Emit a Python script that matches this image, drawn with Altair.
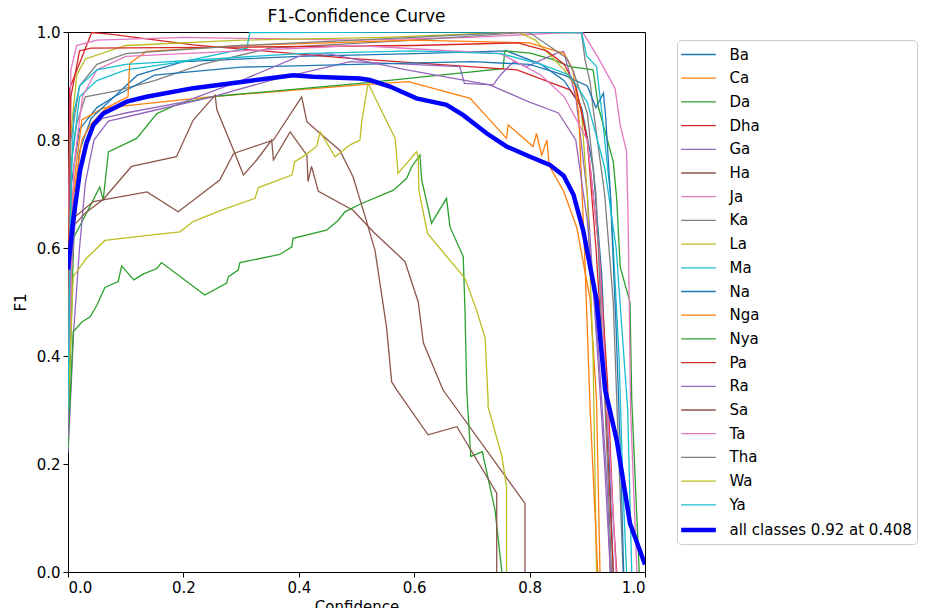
import altair as alt
import pandas as pd

# ---- data ----
CLASS_NAMES = ["Ba", "Ca", "Da", "Dha", "Ga", "Ha", "Ja", "Ka", "La", "Ma",
               "Na", "Nga", "Nya", "Pa", "Ra", "Sa", "Ta", "Tha", "Wa", "Ya",
               "all classes 0.92 at 0.408"]
TAB10 = ["#1f77b4", "#ff7f0e", "#2ca02c", "#d62728", "#9467bd",
         "#8c564b", "#e377c2", "#7f7f7f", "#bcbd22", "#17becf"]
COLORS = TAB10 + TAB10 + ["#0000ff"]
WIDTHS = [1.3] * 20 + [4.5]

BA = [(0, 0.35), (0.006, 0.72), (0.02, 0.82), (0.05, 0.86), (0.08, 0.88), (0.12, 0.92), (0.2, 0.945),
      (0.4, 0.955), (0.6, 0.96), (0.76, 0.965), (0.82, 0.94), (0.86, 0.91), (0.89, 0.86), (0.91, 0.75),
      (0.925, 0.55), (0.935, 0.3), (0.945, 0.0)]
CA = [(0, 0.40), (0.008, 0.70), (0.024, 0.837), (0.061, 0.859), (0.246, 0.880), (0.506, 0.902),
      (0.590, 0.908), (0.697, 0.877), (0.760, 0.803), (0.763, 0.828), (0.806, 0.788), (0.812, 0.812),
      (0.821, 0.772), (0.830, 0.80), (0.834, 0.752), (0.859, 0.705), (0.882, 0.637), (0.905, 0.504),
      (0.916, 0.319), (0.922, 0.0)]
DA = [(0, 0.25), (0.01, 0.62), (0.025, 0.65), (0.038, 0.677), (0.055, 0.713), (0.061, 0.689),
      (0.070, 0.778), (0.119, 0.803), (0.154, 0.849), (0.194, 0.868), (0.255, 0.881), (0.506, 0.905),
      (0.754, 0.932), (0.757, 0.965), (0.801, 0.961), (0.841, 0.949), (0.870, 0.936), (0.910, 0.930),
      (0.913, 0.909), (0.919, 0.862), (0.945, 0.760), (0.951, 0.69), (0.957, 0.565), (0.974, 0.50),
      (0.977, 0.32), (0.99, 0.0)]
DHA = [(0, 0.60), (0.003, 0.896), (0.041, 0.999), (0.073, 0.996), (0.217, 0.976), (0.489, 0.951),
       (0.778, 0.930), (0.870, 0.893), (0.887, 0.868), (0.90, 0.80), (0.915, 0.6), (0.93, 0.35),
       (0.945, 0.0)]
GA = [(0, 0.22), (0.01, 0.45), (0.02, 0.6), (0.03, 0.72), (0.045, 0.80), (0.07, 0.835), (0.13, 0.85),
      (0.25, 0.88), (0.35, 0.91), (0.489, 0.945), (0.679, 0.936), (0.687, 0.905), (0.737, 0.902),
      (0.749, 0.920), (0.772, 0.945), (0.795, 0.936), (0.847, 0.961), (0.859, 0.964), (0.88, 0.88),
      (0.90, 0.7), (0.915, 0.45), (0.93, 0.2), (0.94, 0.0)]
HA = [(0, 0.60), (0.009, 0.64), (0.03, 0.665), (0.061, 0.69), (0.11, 0.751), (0.188, 0.769),
      (0.217, 0.837), (0.255, 0.883), (0.258, 0.856), (0.287, 0.781), (0.304, 0.735), (0.327, 0.763),
      (0.353, 0.800), (0.356, 0.763), (0.385, 0.815), (0.414, 0.772), (0.416, 0.723), (0.422, 0.751),
      (0.434, 0.705), (0.494, 0.67), (0.529, 0.63), (0.584, 0.575), (0.607, 0.50), (0.616, 0.424),
      (0.65, 0.337), (0.792, 0.127), (0.792, 0.0)]
JA = [(0, 0.6), (0.005, 0.93), (0.015, 0.975), (0.05, 0.985), (0.2, 0.99), (0.5, 0.985), (0.7, 0.99),
      (0.88, 1.0), (0.893, 0.998), (0.919, 0.952), (0.948, 0.896), (0.957, 0.828), (0.968, 0.779),
      (0.971, 0.637), (0.975, 0.3), (0.986, 0.0)]
KA = [(0, 0.5), (0.005, 0.75), (0.015, 0.83), (0.03, 0.88), (0.08, 0.89), (0.15, 0.91), (0.232, 0.94),
      (0.35, 0.97), (0.6, 0.985), (0.8, 1.0), (0.89, 0.998), (0.896, 0.949), (0.905, 0.906),
      (0.91, 0.859), (0.93, 0.7), (0.945, 0.5), (0.955, 0.2), (0.962, 0.0)]
LA = [(0, 0.45), (0.004, 0.8), (0.015, 0.92), (0.03, 0.95), (0.1, 0.975), (0.3, 0.985), (0.55, 0.99),
      (0.78, 1.0), (0.81, 0.985), (0.86, 0.93), (0.88, 0.90), (0.89, 0.85), (0.9, 0.7), (0.91, 0.4),
      (0.916, 0.0)]
MA = [(0, 0.35), (0.005, 0.75), (0.02, 0.88), (0.05, 0.91), (0.1, 0.93), (0.2, 0.945), (0.31, 0.97),
      (0.315, 0.999), (0.6, 1.0), (0.89, 1.0), (0.899, 0.955), (0.916, 0.936), (0.925, 0.853),
      (0.94, 0.7), (0.955, 0.4), (0.962, 0.15), (0.968, 0.0)]
NA = [(0, 0.3), (0.005, 0.6), (0.02, 0.78), (0.04, 0.84), (0.08, 0.88), (0.15, 0.92), (0.3, 0.935),
      (0.5, 0.94), (0.7, 0.945), (0.8, 0.94), (0.86, 0.92), (0.9, 0.90), (0.915, 0.86), (0.928, 0.887),
      (0.932, 0.84), (0.94, 0.7), (0.95, 0.45), (0.958, 0.2), (0.963, 0.0)]
NGA = [(0, 0.35), (0.01, 0.7), (0.024, 0.80), (0.04, 0.83), (0.067, 0.860), (0.104, 0.880),
       (0.107, 0.942), (0.136, 0.964), (0.3, 0.975), (0.6, 0.985), (0.8, 0.98), (0.86, 0.96),
       (0.875, 0.93), (0.885, 0.85), (0.895, 0.6), (0.905, 0.3), (0.918, 0.0)]
NYA = [(0, 0.23), (0.009, 0.445), (0.024, 0.463), (0.038, 0.472), (0.050, 0.494), (0.064, 0.527),
       (0.087, 0.538), (0.093, 0.567), (0.114, 0.541), (0.131, 0.552), (0.154, 0.562), (0.162, 0.573),
       (0.237, 0.513), (0.275, 0.535), (0.278, 0.547), (0.295, 0.559), (0.298, 0.573), (0.367, 0.588),
       (0.388, 0.602), (0.390, 0.618), (0.448, 0.633), (0.468, 0.651), (0.480, 0.667), (0.506, 0.681),
       (0.564, 0.707), (0.587, 0.729), (0.596, 0.751), (0.610, 0.772), (0.613, 0.726), (0.630, 0.646),
       (0.656, 0.692), (0.662, 0.639), (0.685, 0.584), (0.688, 0.485), (0.691, 0.337), (0.698, 0.214),
       (0.718, 0.223), (0.74, 0.115), (0.752, 0.0)]
PA = [(0, 0.5), (0.005, 0.88), (0.02, 0.965), (0.04, 0.97), (0.3, 0.972), (0.6, 0.975), (0.78, 0.98),
      (0.83, 0.965), (0.86, 0.94), (0.88, 0.9), (0.9, 0.80), (0.92, 0.6), (0.935, 0.35), (0.945, 0.1),
      (0.951, 0.0)]
RA = [(0, 0.25), (0.005, 0.55), (0.02, 0.75), (0.04, 0.82), (0.06, 0.84), (0.1, 0.85), (0.2, 0.87),
      (0.3, 0.91), (0.4, 0.955), (0.45, 0.96), (0.587, 0.930), (0.731, 0.902), (0.8, 0.87),
      (0.85, 0.85), (0.88, 0.80), (0.9, 0.65), (0.92, 0.4), (0.935, 0.15), (0.94, 0.0)]
SA = [(0, 0.58), (0.009, 0.655), (0.044, 0.686), (0.137, 0.704), (0.191, 0.667), (0.229, 0.698),
      (0.263, 0.726), (0.287, 0.775), (0.356, 0.800), (0.405, 0.88), (0.414, 0.834), (0.437, 0.812),
      (0.471, 0.781), (0.494, 0.732), (0.515, 0.658), (0.532, 0.596), (0.552, 0.454), (0.561, 0.352),
      (0.570, 0.337), (0.624, 0.254), (0.674, 0.269), (0.743, 0.146), (0.743, 0.0)]
TA = [(0, 0.3), (0.01, 0.75), (0.025, 0.88), (0.05, 0.93), (0.1, 0.955), (0.3, 0.965), (0.5, 0.975),
      (0.75, 0.96), (0.82, 0.92), (0.86, 0.88), (0.9, 0.8), (0.92, 0.6), (0.935, 0.3), (0.95, 0.0)]
THA = [(0, 0.4), (0.005, 0.8), (0.02, 0.9), (0.05, 0.94), (0.1, 0.96), (0.3, 0.975), (0.6, 0.99),
       (0.78, 1.0), (0.801, 0.998), (0.864, 0.952), (0.876, 0.927), (0.9, 0.85), (0.915, 0.7),
       (0.925, 0.45), (0.935, 0.2), (0.942, 0.0)]
WA = [(0, 0.30), (0.009, 0.547), (0.032, 0.581), (0.064, 0.614), (0.142, 0.624), (0.194, 0.630),
      (0.217, 0.649), (0.266, 0.670), (0.324, 0.692), (0.330, 0.712), (0.388, 0.735), (0.393, 0.760),
      (0.411, 0.772), (0.431, 0.788), (0.437, 0.815), (0.463, 0.769), (0.489, 0.791), (0.506, 0.80),
      (0.509, 0.834), (0.520, 0.905), (0.567, 0.803), (0.572, 0.738), (0.604, 0.778), (0.607, 0.769),
      (0.608, 0.707), (0.623, 0.627), (0.688, 0.544), (0.708, 0.485), (0.723, 0.433), (0.728, 0.319),
      (0.728, 0.306), (0.752, 0.214), (0.760, 0.158), (0.760, 0.0)]
YA = [(0, 0.3), (0.005, 0.7), (0.01, 0.85), (0.02, 0.9), (0.05, 0.93), (0.1, 0.94), (0.4, 0.96),
      (0.6, 0.965), (0.75, 0.96), (0.82, 0.94), (0.87, 0.92), (0.9, 0.87), (0.93, 0.75), (0.95, 0.6),
      (0.97, 0.3), (0.977, 0.0)]
ALL = [(0, 0.56), (0.009, 0.652), (0.021, 0.744), (0.032, 0.794), (0.044, 0.828), (0.061, 0.849),
       (0.102, 0.871), (0.136, 0.880), (0.217, 0.896), (0.304, 0.908), (0.390, 0.920), (0.425, 0.917),
       (0.506, 0.914), (0.523, 0.911), (0.558, 0.899), (0.604, 0.877), (0.656, 0.865), (0.685, 0.846),
       (0.726, 0.812), (0.760, 0.788), (0.801, 0.769), (0.835, 0.754), (0.859, 0.734), (0.876, 0.699),
       (0.893, 0.632), (0.916, 0.504), (0.931, 0.337), (0.951, 0.244), (0.974, 0.090), (1.0, 0.014)]

SERIES = [BA, CA, DA, DHA, GA, HA, JA, KA, LA, MA, NA, NGA, NYA, PA, RA, SA, TA, THA, WA, YA, ALL]

rows = []
for name, pts in zip(CLASS_NAMES, SERIES):
    for i, (x, y) in enumerate(pts):
        rows.append({"cls": name, "i": i, "conf": x, "f1": y})
df = pd.DataFrame(rows)

FONT = "DejaVu Sans"
LEG = dict(title=None, orient="none", legendX=609, legendY=8)

chart = alt.Chart(df).mark_line(clip=True).encode(
    x=alt.X("conf:Q", title="Confidence",
            scale=alt.Scale(domain=[0, 1], nice=False, zero=False),
            axis=alt.Axis(values=[0, 0.2, 0.4, 0.6, 0.8, 1.0], format=".1f")),
    y=alt.Y("f1:Q", title="F1",
            scale=alt.Scale(domain=[0, 1], nice=False, zero=False),
            axis=alt.Axis(values=[0, 0.2, 0.4, 0.6, 0.8, 1.0], format=".1f")),
    color=alt.Color("cls:N", scale=alt.Scale(domain=CLASS_NAMES, range=COLORS),
                    sort=CLASS_NAMES, legend=alt.Legend(**LEG)),
    strokeWidth=alt.StrokeWidth("cls:N",
                                scale=alt.Scale(type="ordinal", domain=CLASS_NAMES, range=WIDTHS),
                                sort=CLASS_NAMES, legend=alt.Legend(**LEG)),
    order=alt.Order("i:Q"),
).properties(
    width=577,
    height=540,
    title=alt.TitleParams("F1-Confidence Curve", fontSize=17, font=FONT,
                          fontWeight="normal", anchor="middle", offset=6, dy=7, color="black"),
    autosize=alt.AutoSizeParams(type="none"),
    padding={"left": 60, "top": 24, "right": 275, "bottom": 36},
).configure_view(
    stroke="black", strokeWidth=1
).configure_axis(
    grid=False, domainColor="black", tickColor="black", labelColor="black",
    titleColor="black", labelFont=FONT, titleFont=FONT, labelFontSize=15,
    titleFontSize=15, titleFontWeight="normal", tickSize=5, labelPadding=3,
    domainWidth=1,
).configure_axisY(
    titlePadding=8
).configure_axisX(
    titlePadding=4
).configure_legend(
    labelFont=FONT, labelFontSize=15, labelColor="black",
    symbolType="M-2,0H2", symbolSize=300, symbolOffset=5.5, labelOffset=20,
    rowPadding=5.7, padding=5, strokeColor="#cccccc", cornerRadius=4,
    fillColor="white", labelLimit=400,
)

chart.save("out.html", embed_options={"renderer": "svg", "actions": False})
